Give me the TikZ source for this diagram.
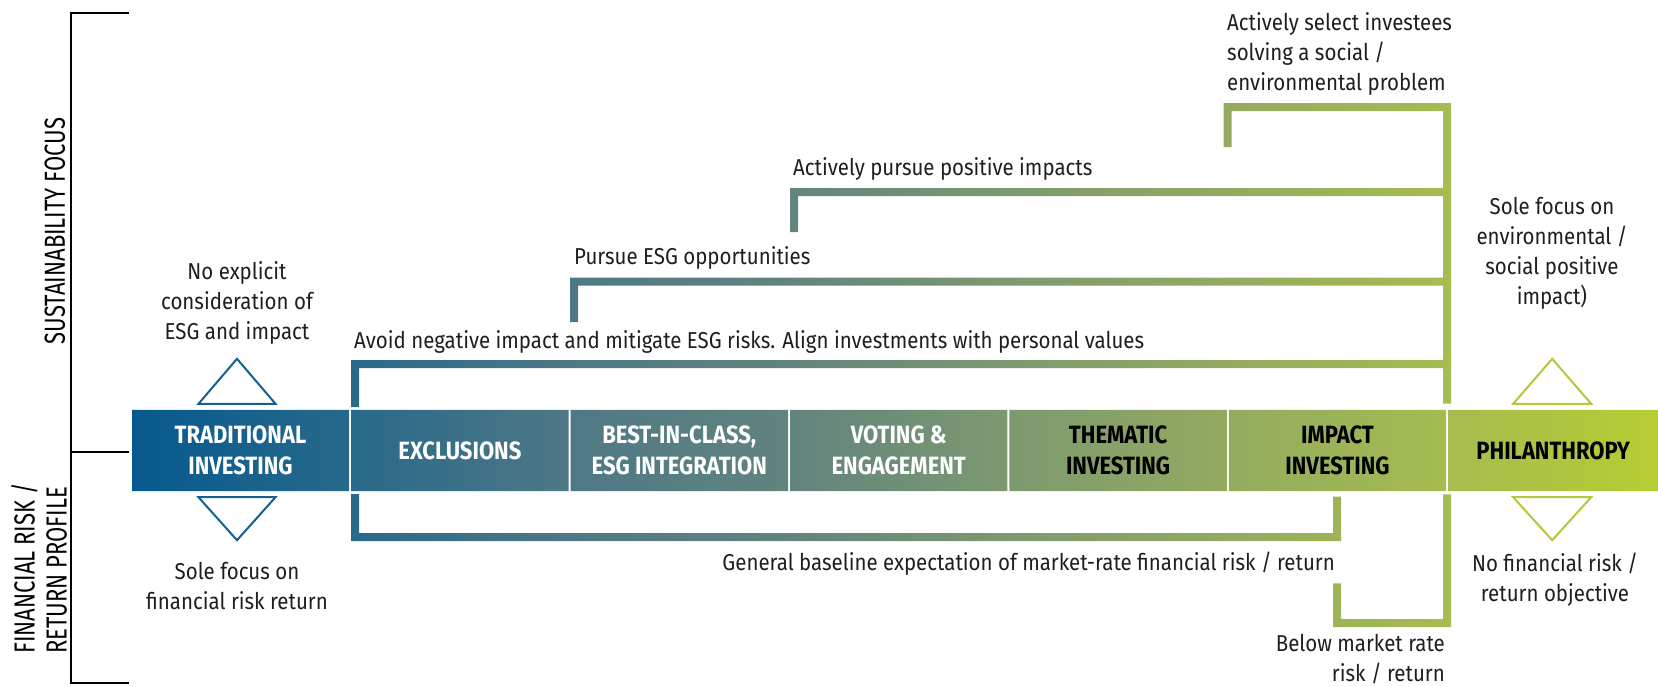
\documentclass[tikz,border=0pt]{standalone}
\usepackage{fontspec}
\setmainfont{Fira Sans}[FakeStretch=0.89]
\newfontfamily\boxfont{Fira Sans}[FakeStretch=0.88]
\newfontfamily\axisfont{Fira Sans}[FakeStretch=0.76]

\definecolor{txtgray}{RGB}{30,30,30}
\definecolor{esgblue}{RGB}{20,96,146}
\definecolor{esglime}{RGB}{178,201,60}

% one colour run for the bar and all brackets (25bp..75bp spans the path)
\pgfdeclarehorizontalshading{esgfade}{100bp}{
  rgb(0bp)=(0.024,0.349,0.561);
  rgb(25bp)=(0.024,0.349,0.561);
  rgb(32.15bp)=(0.157,0.412,0.541);
  rgb(39.35bp)=(0.306,0.471,0.522);
  rgb(46.55bp)=(0.384,0.518,0.494);
  rgb(53.75bp)=(0.490,0.600,0.439);
  rgb(60.9bp)=(0.580,0.667,0.376);
  rgb(68.1bp)=(0.647,0.737,0.314);
  rgb(75bp)=(0.714,0.804,0.196);
  rgb(100bp)=(0.714,0.804,0.196)}

\pgfdeclarelayer{background}
\pgfsetlayers{background,main}

\begin{document}
\begin{tikzpicture}[x=1pt, y=-1pt, node distance=219.4pt]

\tikzstyle{stage} = [rectangle, minimum width=217pt, minimum height=81pt, inner sep=0pt, text centered, align=center, font=\boxfont\bfseries\fontsize{25}{31}\selectfont]
\tikzstyle{note} = [inner sep=0pt, text=txtgray, font=\fontsize{23}{30}\selectfont]
\tikzstyle{axis} = [inner sep=0pt, rotate=90, font=\axisfont\fontsize{29}{32}\selectfont]
\tikzstyle{tri} = [line width=2pt, fill=white, line join=miter]

\useasboundingbox (0,0) rectangle (1658,686);

% the seven stages along the bar
\node (T) [stage, text=white] at (240.5,450.5) {TRADITIONAL\\INVESTING};
\node (E) [stage, text=white, right of=T] {EXCLUSIONS};
\node (B) [stage, text=white, right of=E] {BEST-IN-CLASS,\\ESG INTEGRATION};
\node (V) [stage, text=white, right of=B] {VOTING \&\\ENGAGEMENT};
\node (TH) [stage, right of=V] {THEMATIC\\INVESTING};
\node (I) [stage, right of=TH] {IMPACT\\INVESTING};
\node (P) [stage, right of=I, xshift=-3.7pt, minimum width=209.6pt] {PHILANTHROPY};

% labels
\node (noesg) [note, align=center] at (237,303) {No explicit\\consideration of\\ESG and impact};
\node (solefin) [note, align=center] at (237,586) {Sole focus on\\financial risk return};
\node (avoid) [note, anchor=base west] at (354,348) {Avoid negative impact and mitigate ESG risks. Align investments with personal values};
\node (pursue) [note, anchor=base west] at (574,264) {Pursue ESG opportunities};
\node (posimp) [note, anchor=base west] at (793,175) {Actively pursue positive impacts};
\node (select) [note, align=left, anchor=west] at (1227,54) {Actively select investees\\solving a social /\\environmental problem};
\node (solefoc) [note, align=center] at (1552,253.5) {Sole focus on\\environmental /\\social positive\\impact)};
\node (nofin) [note, align=center] at (1555,580) {No financial risk /\\return objective};
\node (general) [note, anchor=base east] at (1335,570) {General baseline expectation of market-rate financial risk / return};
\node (below) [note, align=right, anchor=east] at (1445,659) {Below market rate\\risk / return};

% left axis
\node (sust) [axis] at (55,231) {SUSTAINABILITY FOCUS};
\node (fin) [axis, align=left, anchor=west] at (39,654) {FINANCIAL RISK /\\RETURN PROFILE};
\draw[line width=2pt] (129,12.5) -| (71,683) -- (129,683);
\draw[line width=2pt] (71,451.5) -- (129,451.5);

% up / down markers
\draw[tri, draw=esgblue] ([xshift=-42pt,yshift=6pt]T.north) -- ++(77,0) -- ++(-38.5,-45) -- cycle;
\draw[tri, draw=esgblue] ([xshift=-42pt,yshift=-6pt]T.south) -- ++(77,0) -- ++(-38.5,43) -- cycle;
\draw[tri, draw=esglime] ([xshift=-40pt,yshift=6pt]P.north) -- ++(78,0) -- ++(-39,-45) -- cycle;
\draw[tri, draw=esglime] ([xshift=-40pt,yshift=-6pt]P.south) -- ++(78,0) -- ++(-39,43) -- cycle;

% bar and brackets share one gradient
\begin{pgfonlayer}{background}
\begin{scope}
\clip foreach \n in {T,E,B,V,TH,I,P} {(\n.south west) rectangle (\n.north east)}
  foreach \xa/\ya/\xb/\yb in {355/364/355/403, 355/364/1447/364,
    574/281.5/574/318, 574/281.5/1447/281.5,
    794/192/794/228, 794/192/1447/192,
    1227.5/107/1227.5/143, 1227.5/107/1447/107, 1447/107/1447/399.5,
    355/498/355/537, 355/537/1337/537, 1337/500.7/1337/537,
    1337/587.3/1337/623, 1337/623/1447/623, 1447/498.3/1447/623}
  {(\xa-4,\ya-4) rectangle (\xb+4,\yb+4)};
\shade[shading=esgfade] (132,0) rectangle (1658,686);
\end{scope}
\end{pgfonlayer}

\end{tikzpicture}
\end{document}
